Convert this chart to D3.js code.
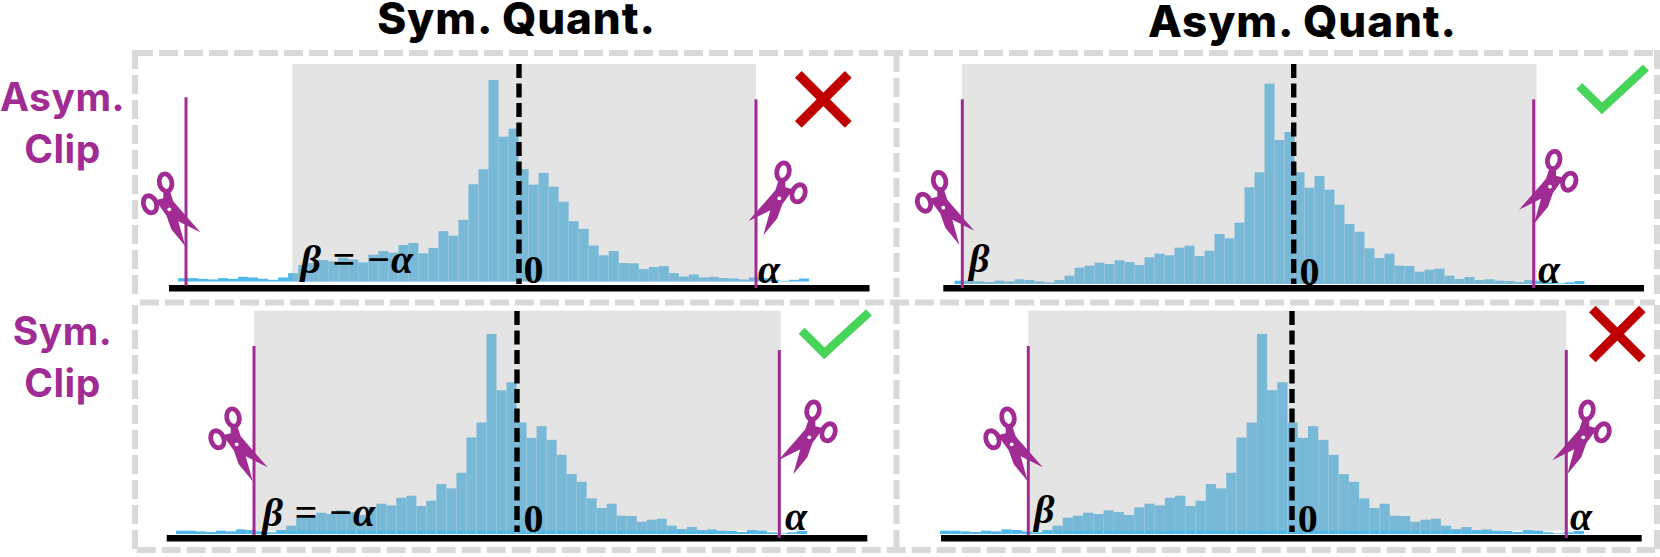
<!DOCTYPE html>
<html>
<head>
<meta charset="utf-8">
<script src="https://cdnjs.cloudflare.com/ajax/libs/d3/7.8.5/d3.min.js"></script>
<style>
  html, body { margin: 0; padding: 0; background: #fff; }
  svg { display: block; }
  text { font-family: "Inter", sans-serif; }
  .math { font-family: "Liberation Serif", serif; font-weight: 700; }
</style>
</head>
<body>
<div id="chart"></div>
<script>
// histogram heights, same distribution in all four panels
const bin_values = [
  10, 10, 8, 6, 10, 8, 14, 12, 8, 5, 12, 25, 49, 55, 64, 60, 71, 66, 57, 80, 91, 86, 109, 115, 84, 100,
  150, 137, 184, 290, 335, 601, 432, 456, 335, 289, 324, 283, 238, 180, 157, 107, 78, 91, 55, 54, 37, 43,
  46, 25, 15, 21, 12, 14, 10, 9, 6, 12, 10, 5, 2, 5, 9
]
const col_titles = ['Sym. Quant.', 'Asym. Quant.']
const row_titles = [['Asym.', 'Clip'], ['Sym.', 'Clip']]

const svg_width = 1660
const svg_height = 557

const clip_purple = '#a02b93'
const frame_grey = '#d9d9d9'

// one entry per panel, all in picture pixels
const panels = [
  {
    bars: [178, 809], base: 281.5, top: 80, grey: [292.3, 756, 64, 281.5], axis: [169, 869.5, 288.2],
    zero: [519, 64, 284], clips: [[186, 97.3, 285.7], [756, 99.3, 288]],
    scissors: [[169.3, 209.3, 1], [779.3, 198.3, -1]],
    betaText: 'β = −α', beta: [300.5, 273.3], alpha: [758, 282.7], zeroLabel: [523.5, 282.7],
    mark: 'x', markAt: [823.3, 99.3]
  },
  {
    bars: [954.5, 1584.5], base: 284, top: 83.7, grey: [962, 1536.7, 64, 284], axis: [943.3, 1644, 288.2],
    zero: [1293.7, 64, 284], clips: [[962.3, 99.3, 288], [1533.7, 99.3, 288]],
    scissors: [[943.3, 207.7, 1], [1550, 186.7, -1]],
    betaText: 'β', beta: [969, 271.7], alpha: [1538, 283], zeroLabel: [1299.5, 285],
    mark: 'check', markAt: [[1579.3, 86], [1602, 108.3], [1646, 67.7]]
  },
  {
    bars: [176, 807], base: 534, top: 334, grey: [254, 780.7, 310.7, 530.7], axis: [166.7, 867.3, 538.2],
    zero: [517, 311, 532], clips: [[254, 346, 535], [779.3, 350, 538]],
    scissors: [[236.7, 444.3, 1], [809.3, 437.3, -1]],
    betaText: 'β = −α', beta: [262.5, 526], alpha: [785, 530], zeroLabel: [523.5, 531.7],
    mark: 'check', markAt: [[801.7, 330.7], [824.3, 353.3], [869, 312.3]]
  },
  {
    bars: [940, 1584], base: 534, top: 334, grey: [1028.3, 1566.3, 310.7, 530.7], axis: [941, 1641.7, 538.2],
    zero: [1292, 311, 532], clips: [[1028.3, 346, 535], [1566.3, 350, 538]],
    scissors: [[1011.7, 444.3, 1], [1583.3, 437.3, -1]],
    betaText: 'β', beta: [1034, 522.7], alpha: [1570, 530], zeroLabel: [1297.8, 532],
    mark: 'x', markAt: [1617.3, 334]
  }
]

const svg = d3.select('#chart')
  .append('svg')
  .attr('width', svg_width)
  .attr('height', svg_height)

// dashed frame, horizontal and vertical pieces
const frame_lines = [
  [134, 53, 1655, 53], [140, 302.5, 1655, 302.5], [136.7, 550, 1655, 550],
  [135, 50, 135, 298], [135, 305, 135, 553],
  [896.5, 53, 896.5, 298], [896.5, 305, 896.5, 553],
  [1657, 50, 1657, 298], [1657, 305, 1657, 553]
]
svg.selectAll('.frame')
  .data(frame_lines)
  .enter()
  .append('line')
  .attr('class', 'frame')
  .attr('x1', d => d[0])
  .attr('y1', d => d[1])
  .attr('x2', d => d[2])
  .attr('y2', d => d[3])
  .attr('stroke', frame_grey)
  .attr('stroke-width', 6)
  .attr('stroke-dasharray', '19 6')

// scissors icon, drawn around its pivot
function drawScissors(parent, x, y, flip) {
  const g = parent.append('g')
    .attr('transform', 'translate(' + x + ',' + y + ') scale(' + flip + ',1)')
  g.append('path')
    .attr('d', 'M-14,-9 L-6,-11 L-6,-19 L0,-20 L4,-8 L10,-1 L31,23 L9,12 L16,37 L2,20 L-3,6 Z')
    .attr('fill', clip_purple)
  g.append('ellipse')
    .attr('cx', -3.7)
    .attr('cy', -26.7)
    .attr('rx', 6.2)
    .attr('ry', 8.8)
    .attr('transform', 'rotate(-12 -3.7 -26.7)')
    .attr('fill', '#fff')
    .attr('stroke', clip_purple)
    .attr('stroke-width', 4.8)
  g.append('ellipse')
    .attr('cx', -19.3)
    .attr('cy', -5)
    .attr('rx', 6.4)
    .attr('ry', 8.8)
    .attr('transform', 'rotate(-20 -19.3 -5)')
    .attr('fill', '#fff')
    .attr('stroke', clip_purple)
    .attr('stroke-width', 4.8)
  g.append('circle')
    .attr('r', 1.9)
    .attr('fill', '#fff')
}

panels.forEach(p => {
  const x = d3.scaleBand()
    .domain(d3.range(bin_values.length))
    .range(p.bars)
  const y = d3.scaleLinear()
    .domain([0, d3.max(bin_values)])
    .range([p.base, p.top])

  const panel = svg.append('g')

  panel.selectAll('.bar')
    .data(bin_values)
    .enter()
    .append('rect')
    .attr('class', 'bar')
    .attr('x', (d, i) => x(i))
    .attr('y', d => y(d))
    .attr('width', x.bandwidth())
    .attr('height', d => y(0) - y(d))
    .attr('fill', '#4db8ea')

  // translucent clip range sits over the bars
  panel.append('rect')
    .attr('x', p.grey[0])
    .attr('y', p.grey[2])
    .attr('width', p.grey[1] - p.grey[0])
    .attr('height', p.grey[3] - p.grey[2])
    .attr('fill', '#bababa')
    .attr('fill-opacity', 0.393)

  panel.append('line')
    .attr('x1', p.axis[0])
    .attr('x2', p.axis[1])
    .attr('y1', p.axis[2])
    .attr('y2', p.axis[2])
    .attr('stroke', '#000')
    .attr('stroke-width', 6.4)

  panel.append('line')
    .attr('x1', p.zero[0])
    .attr('x2', p.zero[0])
    .attr('y1', p.zero[1])
    .attr('y2', p.zero[2])
    .attr('stroke', '#000')
    .attr('stroke-width', 5.4)
    .attr('stroke-dasharray', '14 5.5')

  panel.selectAll('.clip')
    .data(p.clips)
    .enter()
    .append('line')
    .attr('class', 'clip')
    .attr('x1', d => d[0])
    .attr('x2', d => d[0])
    .attr('y1', d => d[1])
    .attr('y2', d => d[2])
    .attr('stroke', clip_purple)
    .attr('stroke-width', 3)

  p.scissors.forEach(s => drawScissors(panel, s[0], s[1], s[2]))

  panel.append('text')
    .attr('class', 'math')
    .attr('x', p.beta[0])
    .attr('y', p.beta[1])
    .attr('font-size', 40)
    .attr('font-style', 'italic')
    .attr('letter-spacing', 0.6)
    .text(p.betaText)
  panel.append('text')
    .attr('class', 'math')
    .attr('x', p.alpha[0])
    .attr('y', p.alpha[1])
    .attr('font-size', 40)
    .attr('font-style', 'italic')
    .text('α')
  panel.append('text')
    .attr('class', 'math')
    .attr('x', p.zeroLabel[0])
    .attr('y', p.zeroLabel[1])
    .attr('font-size', 40)
    .text('0')

  if (p.mark === 'x') {
    const c = p.markAt
    panel.append('path')
      .attr('d', `M${c[0] - 25},${c[1] - 25}L${c[0] + 25},${c[1] + 25}M${c[0] - 25},${c[1] + 25}L${c[0] + 25},${c[1] - 25}`)
      .attr('stroke', '#c00000')
      .attr('stroke-width', 9.5)
      .attr('fill', 'none')
  } else {
    panel.append('path')
      .attr('d', d3.line()(p.markAt))
      .attr('stroke', '#47d45a')
      .attr('stroke-width', 8.5)
      .attr('fill', 'none')
  }
})

svg.selectAll('.col-title')
  .data(col_titles)
  .enter()
  .append('text')
  .attr('class', 'col-title')
  .attr('x', (d, i) => [516.5, 1302.5][i])
  .attr('y', (d, i) => [34.3, 37][i])
  .attr('text-anchor', 'middle')
  .attr('font-size', 44)
  .attr('font-weight', 800)
  .attr('letter-spacing', 0.9)
  .text(d => d)

const row_x = [62.5, 62.5]
const row_y = [[111, 163], [345, 396.7]]
row_titles.forEach((lines, r) => {
  svg.selectAll('.row-title-' + r)
    .data(lines)
    .enter()
    .append('text')
    .attr('class', 'row-title-' + r)
    .attr('x', row_x[r])
    .attr('y', (d, i) => row_y[r][i])
    .attr('text-anchor', 'middle')
    .attr('font-size', 39)
    .attr('font-weight', 700)
    .attr('letter-spacing', 0.5)
    .attr('fill', clip_purple)
    .text(d => d)
})
</script>
</body>
</html>
